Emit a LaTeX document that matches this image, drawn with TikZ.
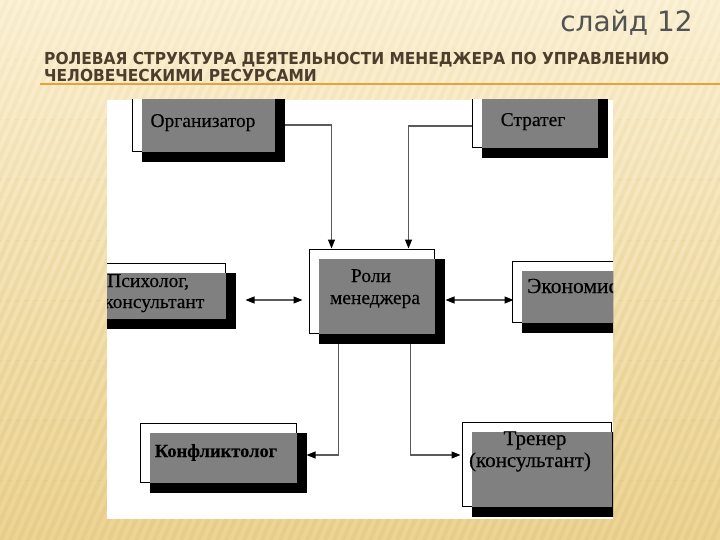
\documentclass[tikz,border=0pt]{standalone}
\usepackage{fontspec}
\setmainfont{Liberation Serif}[FakeBold=0.3]
\newfontfamily\dejavu{DejaVu Sans}
\newfontfamily\dejavuhead{DejaVu Sans}[FakeStretch=0.935]
\usetikzlibrary{arrows.meta,calc}
\definecolor{bgtop}{HTML}{FBF1D6}
\definecolor{bgbot}{HTML}{ECD494}
\definecolor{stripec}{HTML}{E2C47C}
\definecolor{headc}{HTML}{4E3D2C}
\definecolor{rulec}{HTML}{E3A33E}
\definecolor{boxgray}{HTML}{808080}
\definecolor{linec}{HTML}{5A5A5A}
\newcommand\rolebox[5]{%
  \node[outl, minimum width={#4-#2}, minimum height={#5-#3}] (#1) at ({(#2+#4)/2},{(#3+#5)/2}) {};
  \fill[black] ([shift={(10,10)}]#1.north west) rectangle ([shift={(10,10)}]#1.south east);
  \fill[boxgray] ([shift={(10,10)}]#1.north west) rectangle (#1.south east);
}
\begin{document}
\begin{tikzpicture}[x=1pt,y=-1pt,
  outl/.style={draw=black, fill=white, line width=1pt, inner sep=0pt, rectangle},
  lbl/.style={font=\fontsize{19.5}{22}\selectfont, text=black, inner sep=0pt, anchor=base},
  conn/.style={draw=linec, line width=1.1pt, -{Triangle[length=9pt,width=7pt,color=black]}},
  conn2/.style={draw=linec, line width=1.1pt, {Triangle[length=9pt,width=7pt,color=black]}-{Triangle[length=9pt,width=7pt,color=black]}},
]
\useasboundingbox (0,0) rectangle (720,540);
\shade[top color=bgtop, bottom color=bgbot] (0,0) rectangle (720,540);
\foreach \b in {0,1,...,8} {
  \begin{scope}
    \clip (0,\b*60) rectangle (720,\b*60+60);
    \pgfmathsetmacro\op{0.10+0.04*\b}
    \foreach \s in {-260,-251,...,720}
      \draw[stripec, line width=4pt, opacity=\op] (\s,540) -- (\s+240,0);
  \end{scope}
}
% title and heading
\node[font=\dejavu\fontsize{28}{30}\selectfont, text=black!68, anchor=base east, inner sep=0pt] (slide) at (693,32) {слайд 12};
\node[font=\dejavuhead\bfseries\fontsize{16.5}{20}\selectfont, text=headc, anchor=base west, inner sep=0pt] (head1) at (44,65) {РОЛЕВАЯ СТРУКТУРА ДЕЯТЕЛЬНОСТИ МЕНЕДЖЕРА ПО УПРАВЛЕНИЮ};
\node[font=\dejavuhead\bfseries\fontsize{16.5}{20}\selectfont, text=headc, anchor=base west, inner sep=0pt] (head2) at (44,82) {ЧЕЛОВЕЧЕСКИМИ РЕСУРСАМИ};
\coordinate (r1) at (40,84);
\coordinate (r2) at (720,84);
\draw[rulec, line width=1.8pt] (r1) -- (r2);
% diagram panel
\fill[white] (107,100) rectangle (613,519);
\begin{scope}
  \clip (107,100) rectangle (613,519);
  \rolebox{org}{132}{86}{274}{152}
  \rolebox{str}{472}{86}{597}{148}
  \rolebox{roli}{309}{249}{434}{333}
  \rolebox{psy}{95}{263}{225}{318}
  \rolebox{eco}{512}{261}{640}{322}
  \rolebox{kon}{140}{423}{296}{482}
  \rolebox{tre}{462}{422}{611}{506}
  \node[lbl] (torg) at (203,127) {Организатор};
  \node[lbl] (tstr) at (533,126) {Стратег};
  \node[lbl] (troli1) at (371,282) {Роли};
  \node[lbl] (troli2) at (375,304) {менеджера};
  \node[lbl, anchor=base west] (tpsy1) at (107,287) {Психолог,};
  \node[lbl, anchor=base west] (tpsy2) at (104,308) {консультант};
  \node[lbl, anchor=base west, font=\fontsize{21.5}{24}\selectfont] (teco) at (527,293) {Экономист};
  \node[lbl, font=\bfseries\fontsize{18.5}{22}\selectfont] (tkon) at (216,457) {Конфликтолог};
  \node[lbl, font=\fontsize{21}{24}\selectfont] (ttre1) at (535,445) {Тренер};
  \node[lbl, font=\fontsize{21}{24}\selectfont] (ttre2) at (530,467) {(консультант)};
  % connectors
  \draw[conn] ([shift={(10,6)}]org.east) -| ([shift={(23,0)}]roli.north west);
  \draw[conn] ([shift={(0,9)}]str.west) -| ([shift={(100,0)}]roli.north west);
  \draw[conn2] ([shift={(20,9.5)}]psy.east) -- ([shift={(-6,9)}]roli.west);
  \draw[conn2] ([shift={(11,9)}]roli.east) -- ([shift={(2,8.5)}]eco.west);
  \draw[conn] ([shift={(30,10)}]roli.south west) |- ([shift={(10,2.5)}]kon.east);
  \draw[conn] ([shift={(102,10)}]roli.south west) |- ([shift={(-1,-9)}]tre.west);
\end{scope}
\end{tikzpicture}
\end{document}
